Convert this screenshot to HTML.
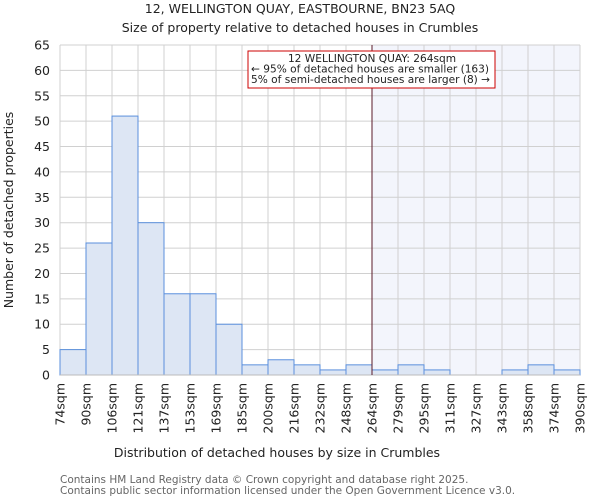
<!DOCTYPE html>
<html><head><meta charset="utf-8"><style>
body{margin:0;background:#fff;font-family:"DejaVu Sans","Liberation Sans",sans-serif}
svg text{font-family:"DejaVu Sans","Liberation Sans",sans-serif;fill:#222}
</style></head><body>
<svg id="chart" width="600" height="500" xmlns="http://www.w3.org/2000/svg">
<text x="300" y="13" font-size="12.5" text-anchor="middle">12, WELLINGTON QUAY, EASTBOURNE, BN23 5AQ</text>
<text x="300" y="32" font-size="12.5" text-anchor="middle">Size of property relative to detached houses in Crumbles</text>
<text x="277" y="457" font-size="12.5" text-anchor="middle">Distribution of detached houses by size in Crumbles</text>
<text transform="translate(13,210) rotate(-90)" font-size="12.5" text-anchor="middle">Number of detached properties</text>
<text x="60" y="483" font-size="10.5" style="fill:#666">Contains HM Land Registry data © Crown copyright and database right 2025.</text>
<text x="60" y="494" font-size="10.5" style="fill:#666">Contains public sector information licensed under the Open Government Licence v3.0.</text>
<g id="g"></g>
</svg>
<script>
const labels=["74sqm","90sqm","106sqm","121sqm","137sqm","153sqm","169sqm","185sqm","200sqm","216sqm","232sqm","248sqm","264sqm","279sqm","295sqm","311sqm","327sqm","343sqm","358sqm","374sqm","390sqm"];
const counts=[5,26,51,30,16,16,10,2,3,2,1,2,1,2,1,0,0,1,2,1];
const yTicks=[0,5,10,15,20,25,30,35,40,45,50,55,60,65];
const markerBin=12;
const X0=60,X1=580,Y0=375,Y1=45,YMAX=65;
const bw=(X1-X0)/counts.length;
const xs=i=>X0+i*bw, ys=v=>Y0-(v/YMAX)*(Y0-Y1);
const NS="http://www.w3.org/2000/svg",g=document.getElementById('g');
function mk(t,a){const e=document.createElementNS(NS,t);for(const k in a)e.setAttribute(k,a[k]);g.appendChild(e);return e;}
let e=mk('rect',{x:xs(markerBin),y:Y1,width:X1-xs(markerBin),height:Y0-Y1,fill:'#f3f5fc'});


yTicks.forEach(v=>{let l=mk('line',{x1:X0,x2:X1,y1:ys(v),y2:ys(v),stroke:'#d0d0d0','stroke-width':1});


let t=mk('text',{x:X0-10,y:ys(v)+4.5,'font-size':12.5,'text-anchor':'end'});t.textContent=v;

});
labels.forEach((s,i)=>{let l=mk('line',{x1:xs(i),x2:xs(i),y1:Y1,y2:Y0,stroke:'#d0d0d0','stroke-width':1});


let t=mk('text',{transform:`translate(${xs(i)+4.5},${Y0+8}) rotate(-90)`,'font-size':12.5,'text-anchor':'end'});t.textContent=s;

});
counts.forEach((v,i)=>{let r=mk('rect',{x:xs(i),y:ys(v),width:bw,height:Y0-ys(v),fill:'#dde6f4',stroke:'#5a8fdc','stroke-width':1});

});
e=mk('line',{x1:X0,x2:X1,y1:Y0,y2:Y0,stroke:'#bbb'});


e=mk('line',{x1:xs(markerBin),x2:xs(markerBin),y1:Y1,y2:Y0,stroke:'#5a1a2a','stroke-width':1});


e=mk('rect',{x:248,y:51,width:247,height:37,fill:'#fff',stroke:'#cc0000','stroke-width':1});


["12 WELLINGTON QUAY: 264sqm","← 95% of detached houses are smaller (163)","5% of semi-detached houses are larger (8) →"].forEach((s,i)=>{
let t=mk('text',{x:i==0?372:251,y:62+i*10.5,'font-size':10.6,'text-anchor':i==0?'middle':'start'});t.textContent=s;

});
</script>
</body></html>
